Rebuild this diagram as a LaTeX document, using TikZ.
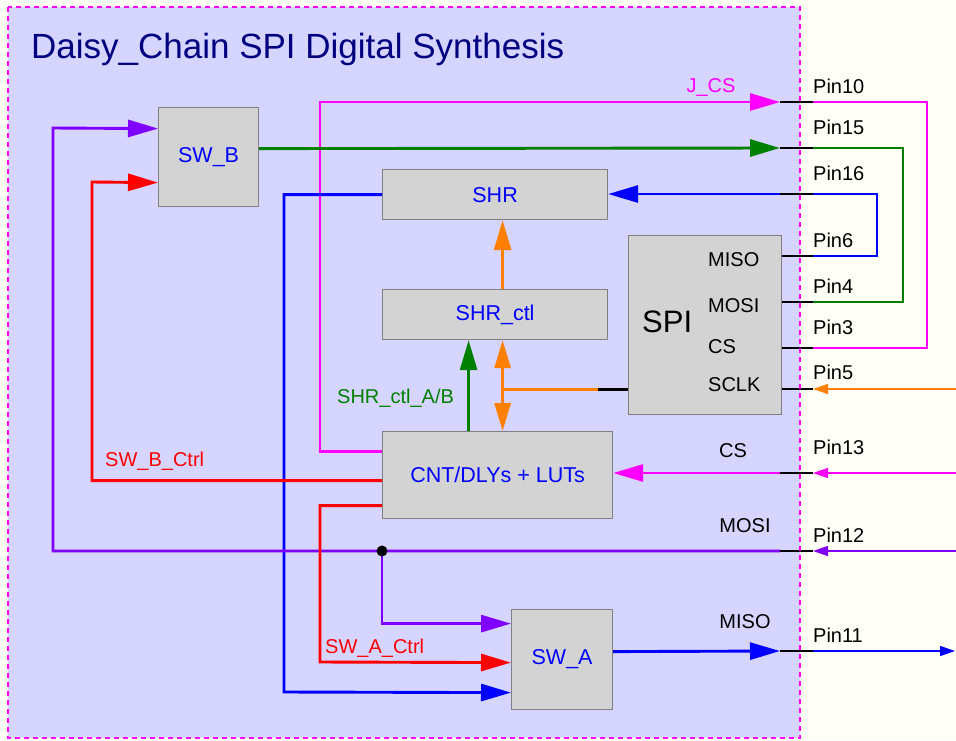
\documentclass[tikz,border=0pt]{standalone}
\usepackage{fontspec}
\setmainfont{Liberation Sans}
\usepackage{tikz}
\usetikzlibrary{arrows.meta, positioning}
\definecolor{pagebg}{HTML}{FEFEF6}
\definecolor{chipbg}{HTML}{D5D5FF}
\definecolor{boxgray}{HTML}{D3D3D3}
\definecolor{boxedge}{HTML}{808080}
\definecolor{sigmag}{HTML}{FF00FF}
\definecolor{siggreen}{HTML}{008000}
\definecolor{sigblue}{HTML}{0000FF}
\definecolor{sigred}{HTML}{FF0000}
\definecolor{sigviolet}{HTML}{8000FF}
\definecolor{sigorange}{HTML}{FF8000}
\definecolor{titlenavy}{HTML}{000080}

\begin{document}
\begin{tikzpicture}[
    x=1pt, y=-1pt,
    blk/.style  = {draw=boxedge, fill=boxgray, line width=1.2pt, anchor=north west,
                   inner sep=0pt, text=sigblue, font=\fontsize{21.5}{25}\selectfont},
    lbl/.style  = {inner sep=0pt, font=\fontsize{20}{24}\selectfont},
    wire/.style = {line width=2.9pt},
    ext/.style  = {line width=1.5pt},
    stub/.style = {line width=2.8pt, black},
    arr/.style  = {-{Triangle[length=30pt, width=17pt]}},
    darr/.style = {{Triangle[length=28pt, width=16pt]}-{Triangle[length=28pt, width=16pt]}},
    sarr/.style = {-{Triangle[length=15pt, width=10pt]}},
  ]

  %% Page and chip area
  \useasboundingbox (0,0) rectangle (956,740);
  \fill[pagebg] (0,0) rectangle (956,740);
  \fill[chipbg] (8,7) rectangle (800,738);
  \node[anchor=base west, inner sep=0pt, text=titlenavy,
        font=\fontsize{35}{40}\selectfont] (title) at (31,58) {Daisy\_Chain SPI Digital Synthesis};

  %% Pins
  \foreach \n/\y/\ly in {10/102/93, 15/148/134, 16/194/180, 6/256/247, 4/302/293,
                         3/348/334, 5/389/379, 13/473/454, 12/551/542, 11/651/642} {
    \coordinate (in\n)  at (780,\y);
    \coordinate (pin\n) at (813,\y);
    \node[lbl, anchor=base west] (lbl\n) at (813,\ly) {Pin\n};
  }
  \coordinate (far5)  at (956,389);
  \coordinate (far13) at (956,473);
  \coordinate (far12) at (956,551);
  \coordinate (far11) at (955,651);

  %% Blocks
  \node[blk, minimum width=100pt, minimum height=99pt]  (swb)    at (158,107) {SW\_B};
  \node[blk, minimum width=225pt, minimum height=50pt]  (shr)    at (382,169) {SHR};
  \node[blk, minimum width=225pt, minimum height=50pt]  (shrctl) at (382,289) {SHR\_ctl};
  \node[blk, minimum width=153pt, minimum height=179pt] (spi)    at (628,235) {};
  \node[blk, minimum width=230pt, minimum height=87pt]  (cnt)    at (382,431) {CNT/DLYs + LUTs};
  \node[blk, minimum width=101pt, minimum height=100pt] (swa)    at (511,609) {SW\_A};

  %% SPI block texts
  \node[anchor=base west, inner sep=0pt, font=\fontsize{31}{36}\selectfont] (spilbl) at (642,332) {SPI};
  \node[lbl, anchor=base west] (spimiso) at (708,266) {MISO};
  \node[lbl, anchor=base west] (spimosi) at (708,312) {MOSI};
  \node[lbl, anchor=base west] (spics)   at (708,353) {CS};
  \node[lbl, anchor=base west] (spisclk) at (708,391) {SCLK};

  %% Internal wires
  \draw[wire, sigmag, arr] ([yshift=23.5pt]cnt.west) -| (320,102) -- (in10);
  \draw[wire, siggreen, arr] ([yshift=8.5pt]swb.east) -- (in15);
  \draw[wire, sigblue, arr] (in16) -- (in16 -| shr.east);
  \draw[wire, sigblue, arr] (shr.west) -| (284,692) -- ([yshift=-33pt]swa.west);
  \draw[wire, sigorange, arr] ([xshift=7.5pt]shrctl.north) -- ([xshift=7.5pt]shr.south);
  \draw[wire, siggreen, arr] ([xshift=-29pt]cnt.north) -- ([xshift=-26.5pt]shrctl.south);
  \draw[wire, sigorange, darr] ([xshift=7.5pt]shrctl.south) -- ([xshift=5pt]cnt.north);
  \coordinate (ojoin) at ([xshift=7.5pt]shrctl.south);
  \draw[stub] ([yshift=-64.5pt]spi.west) -- ++(-30,0) coordinate (sclkin);
  \draw[wire, sigorange] (sclkin) -- (sclkin -| ojoin);
  \draw[wire, sigmag, arr] (in13) -- (in13 -| cnt.east);
  \coordinate (jn) at (382,551);
  \draw[wire, sigviolet, arr] (in12) -| (53,128) -- ([yshift=28.5pt]swb.west);
  \draw[wire, sigviolet, arr] (jn) |- ([yshift=36pt]swa.west);
  \draw[wire, sigred, arr] ([yshift=-5.5pt]cnt.west) -| (92,182) -- ([yshift=-25.5pt]swb.west);
  \draw[wire, sigred, arr] ([yshift=-30.5pt]cnt.west) -| (320,662) -- ([yshift=-3pt]swa.west);
  \draw[wire, sigblue, arr] ([yshift=8pt]swa.east) -- (in11);
  \fill[black] (jn) circle (5.5);

  %% Wire labels
  \node[lbl, anchor=base, text=sigmag] (jcslbl) at (711,92) {J\_CS};
  \node[lbl, anchor=base west, text=siggreen] (ablbl) at (337,403) {SHR\_ctl\_A/B};
  \node[lbl, anchor=base west, text=sigred] (swbctl) at (105,466) {SW\_B\_Ctrl};
  \node[lbl, anchor=base west, text=sigred] (swactl) at (325,653) {SW\_A\_Ctrl};
  \node[lbl, anchor=base] (cslbl)   at (733,457) {CS};
  \node[lbl, anchor=base] (mosilbl) at (745,532) {MOSI};
  \node[lbl, anchor=base] (misolbl) at (745,628) {MISO};

  %% External loops and pins
  \draw[ext, sigmag]   (pin10) -- (927,102) |- (pin3);
  \draw[ext, siggreen] (pin15) -- (903,148) |- (pin4);
  \draw[ext, sigblue]  (pin16) -- (877,194) |- (pin6);
  \draw[ext, sigorange, sarr] (far5)  -- (pin5);
  \draw[ext, sigmag, sarr]    (far13) -- (pin13);
  \draw[ext, sigviolet, sarr] (far12) -- (pin12);
  \draw[ext, sigblue, sarr]   (pin11) -- (far11);

  %% Pin stubs
  \foreach \n in {10,15,16,13,12,11} {
    \draw[stub] (in\n) -- (pin\n);
  }
  \foreach \n in {6,4,3,5} {
    \draw[stub] (spi.east |- in\n) -- (pin\n);
  }

  %% Chip border
  \draw[sigmag, line width=1.5pt, dash pattern=on 5pt off 4pt] (8,7) rectangle (800,738);

\end{tikzpicture}
\end{document}
